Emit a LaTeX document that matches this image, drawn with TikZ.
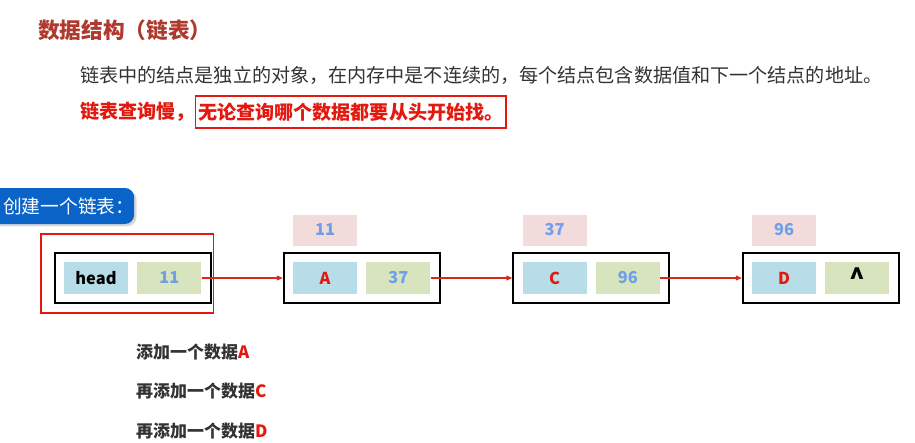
\documentclass[tikz,border=0pt]{standalone}
\usepackage{fontspec}
\setmainfont{Noto Sans CJK SC}
\usepackage{xcolor}
\usepackage{tikz}
\usetikzlibrary{positioning, arrows.meta, fit, calc, shadows}

\definecolor{titlered}{HTML}{B0392D}
\definecolor{textgray}{HTML}{333333}
\definecolor{datared}{HTML}{E3190F}
\definecolor{linkred}{HTML}{D8281A}
\definecolor{tagblue}{HTML}{0A63C6}
\definecolor{keyblue}{HTML}{B6DDE8}
\definecolor{valgreen}{HTML}{D7E4BD}
\definecolor{addrpink}{HTML}{F2DCDB}
\definecolor{numblue}{HTML}{6E9FE8}

\begin{document}
\begin{tikzpicture}[
  x=0.03cm, y=-0.03cm,
  txt/.style={anchor=west, inner sep=0pt},
  cell/.style={minimum width=1.92cm, minimum height=0.96cm, inner sep=0pt,
               font=\bfseries\fontsize{14}{16}\selectfont},
  keycell/.style={cell, fill=keyblue, text=datared},
  valcell/.style={cell, fill=valgreen, text=numblue},
  addr/.style={cell, minimum height=0.93cm, fill=addrpink, text=numblue},
  nodebox/.style={draw=black, line width=1.6pt, inner sep=0.27cm},
  link/.style={-{Triangle[length=5pt, width=4pt]}, draw=linkred, line width=1.1pt},
  addline/.style={txt, text=textgray, font=\bfseries\fontsize{14.5}{17}\selectfont},
]
\useasboundingbox[fill=white] (0,0) rectangle (915,442);

% heading and notes
\node[txt, text=titlered, font=\bfseries\fontsize{18.5}{22}\selectfont] (title) at (38,30)
  {数据结构（链表）};
\node[txt, text=textgray, font=\fontsize{16.3}{20}\selectfont] (desc) at (80,75)
  {链表中的结点是独立的对象，在内存中是不连续的，每个结点包含数据值和下一个结点的地址。};
\node[txt, text=datared, font=\bfseries\fontsize{16.3}{20}\selectfont] (slow) at (80,112)
  {链表查询慢，};
\node[right=0pt of slow, draw=datared, line width=1.2pt, inner xsep=2pt,
      minimum height=0.96cm, text=datared, font=\bfseries\fontsize{16.3}{20}\selectfont] (scan)
  {无论查询哪个数据都要从头开始找。};

\node[txt, anchor=west, fill=tagblue, text=white, rounded corners=8pt,
      minimum height=1.08cm, inner xsep=0.45cm, font=\fontsize{16}{19}\selectfont,
      drop shadow={opacity=0.3, shadow xshift=2pt, shadow yshift=-2pt}] (make) at (-12,206)
  {创建一个链表：\kern-13pt};

% list nodes
\node[keycell, text=black] (k0) at (96,278) {head};
\node[valcell, right=0.27cm of k0] (v0) {11};
\node[nodebox, fit=(k0)(v0)] (n0) {};
\draw[draw=datared, line width=1.2pt] ($(n0.north west)+(-13,-18)$) rectangle ($(n0.south east)+(2,9)$);

\node[keycell] (k1) at (325,278) {A};
\node[valcell, right=0.27cm of k1] (v1) {37};
\node[nodebox, fit=(k1)(v1)] (n1) {};
\node[addr, above=0.48cm of k1] (a1) {11};

\node[keycell] (k2) at (554.5,278) {C};
\node[valcell, right=0.27cm of k2] (v2) {96};
\node[nodebox, fit=(k2)(v2)] (n2) {};
\node[addr, above=0.48cm of k2] (a2) {37};

\node[keycell] (k3) at (784,278) {D};
\node[valcell, right=0.27cm of k3, text=black, font=\bfseries\fontsize{22}{22}\selectfont] (v3)
  {\raisebox{-0.35ex}{\textasciicircum}};
\node[nodebox, fit=(k3)(v3)] (n3) {};
\node[addr, above=0.48cm of k3] (a3) {96};

\draw[link] (v0.east) -- (n1.west);
\draw[link] (v1.east) -- (n2.west);
\draw[link] (v2.east) -- (n3.west);

% steps
\node[addline] (addA) at (136,352) {添加一个数据\textcolor{datared}{A}};
\node[addline] (addC) at (136,391) {再添加一个数据\textcolor{datared}{C}};
\node[addline] (addD) at (136,431) {再添加一个数据\textcolor{datared}{D}};
\end{tikzpicture}
\end{document}
